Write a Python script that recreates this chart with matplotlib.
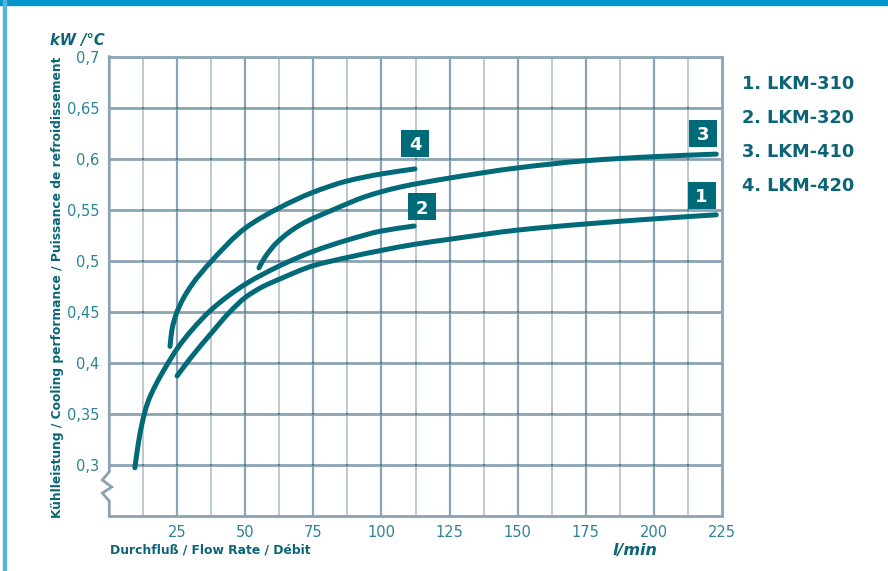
import numpy as np
import matplotlib
matplotlib.use("Agg")
import matplotlib.pyplot as plt
from matplotlib.patches import Rectangle, PathPatch
from matplotlib.path import Path

# Kuehlleistung (kW/°C) ueber Durchfluss (l/min)
LKM310_X = [24.9, 30.0, 37.5, 44.0, 50.0, 56.0, 62.6, 74.8, 87.2, 99.8, 112.0, 125.0, 150.0, 175.0, 200.0, 223.0]
LKM310_Y = [0.387, 0.405, 0.429, 0.449, 0.464, 0.474, 0.482, 0.495, 0.503, 0.510, 0.516, 0.521, 0.530, 0.536, 0.541, 0.545]

LKM320_X = [9.4, 10.5, 12.0, 14.0, 17.0, 21.0, 25.0, 30.0, 37.5, 50.0, 62.6, 74.8, 87.2, 99.8, 112.0]
LKM320_Y = [0.297, 0.318, 0.340, 0.360, 0.378, 0.397, 0.414, 0.431, 0.452, 0.477, 0.495, 0.509, 0.520, 0.529, 0.534]

LKM410_X = [55.0, 57.0, 61.5, 70.1, 82.3, 94.6, 106.5, 125.0, 150.0, 175.0, 200.0, 223.0]
LKM410_Y = [0.493, 0.5026, 0.5176, 0.535, 0.550, 0.5633, 0.572, 0.581, 0.591, 0.598, 0.602, 0.6045]

LKM420_X = [22.3, 23.0, 24.5, 27.0, 30.5, 37.0, 50.0, 62.6, 74.8, 87.2, 99.8, 112.3]
LKM420_Y = [0.416, 0.432, 0.447, 0.462, 0.477, 0.498, 0.532, 0.552, 0.567, 0.578, 0.585, 0.590]

SERIES = [(LKM310_X, LKM310_Y), (LKM320_X, LKM320_Y), (LKM410_X, LKM410_Y), (LKM420_X, LKM420_Y)]
LEGEND = ["1. LKM-310", "2. LKM-320", "3. LKM-410", "4. LKM-420"]

# Kennziffer-Kaestchen an den Kurven
BADGE_TEXT = ["1", "2", "3", "4"]
BADGE_X = [217.6, 115.0, 218.0, 112.4]
BADGE_Y = [0.564, 0.553, 0.625, 0.615]

X_TICKS = [25, 50, 75, 100, 125, 150, 175, 200, 225]
Y_TICKS = [0.3, 0.35, 0.4, 0.45, 0.5, 0.55, 0.6, 0.65, 0.7]

TEAL = "#006a79"
TEXT = "#0b6576"
TICKC = "#2b8396"
GRID = "#8ba3b3"
GRID_MINOR = "#a8bac6"


def smooth_path(xs, ys):
    """monotone Hermite-Kurve durch die Punkte als Bezier-Pfad (nur Darstellung)."""
    x = np.asarray(xs, float)
    y = np.asarray(ys, float)
    h = np.diff(x)
    d = np.diff(y) / h
    m = np.empty_like(x)
    m[0], m[-1] = d[0], d[-1]
    for k in range(1, len(x) - 1):
        if d[k - 1] * d[k] <= 0:
            m[k] = 0.0
        else:
            w1 = 2 * h[k] + h[k - 1]
            w2 = h[k] + 2 * h[k - 1]
            m[k] = (w1 + w2) / (w1 / d[k - 1] + w2 / d[k])
    verts = [(x[0], y[0])]
    codes = [Path.MOVETO]
    for k in range(len(h)):
        verts += [(x[k] + h[k] / 3, y[k] + m[k] * h[k] / 3),
                  (x[k + 1] - h[k] / 3, y[k + 1] - m[k + 1] * h[k] / 3),
                  (x[k + 1], y[k + 1])]
        codes += [Path.CURVE4] * 3
    return Path(verts, codes)


fig = plt.figure(figsize=(8.88, 5.71), dpi=100)
ax = fig.add_axes([109.3 / 888, 55.3 / 571, 612.4 / 888, 459.0 / 571])
ax.set_xlim(0, 225)
ax.set_ylim(0.25, 0.7)

# Raster
for xv in np.arange(12.5, 225, 25):
    ax.axvline(xv, color=GRID_MINOR, lw=1.1, zorder=1)
for xv in X_TICKS[:-1]:
    ax.axvline(xv, color=GRID, lw=1.6, zorder=1)
for yv in Y_TICKS[:-1]:
    ax.axhline(yv, color=GRID, lw=2.0, zorder=1)
xx, yy = np.meshgrid(np.arange(12.5, 225, 12.5), Y_TICKS)
ax.scatter(xx.ravel(), yy.ravel(), s=4, marker="s", color="#4f7d8c", lw=0, zorder=2)

for s in ax.spines.values():
    s.set_color(GRID)
    s.set_linewidth(2.0)
ax.spines["left"].set_visible(False)

# linke Achse mit Bruchzeichen
zx = [0, 0, -2.57, 0.9, -2.57, 0, 0]
zy = [0.7, 0.2931, 0.2850, 0.2781, 0.2722, 0.2644, 0.25]
ax.plot(zx, zy, color=GRID, lw=2.0, clip_on=False, zorder=3, solid_joinstyle="miter")

for xs, ys in SERIES:
    ax.add_patch(PathPatch(smooth_path(xs, ys), fill=False, ec=TEAL, lw=3.6,
                           capstyle="round", joinstyle="round", zorder=4))

bw, bh = 28 / 2.722, 27 / 1020.0
for t, bx, by in zip(BADGE_TEXT, BADGE_X, BADGE_Y):
    ax.add_patch(Rectangle((bx - bw / 2, by - bh / 2), bw, bh, fc=TEAL, ec="none", zorder=5))
    ax.text(bx, by, t, color="white", fontsize=13, fontweight="bold",
            ha="center", va="center_baseline", zorder=6)

ax.set_xticks(X_TICKS)
ax.set_xticklabels([str(v) for v in X_TICKS])
ax.set_yticks(Y_TICKS)
ax.set_yticklabels([f"{v:g}".replace(".", ",") for v in Y_TICKS])
ax.tick_params(length=0, labelsize=10.5, labelcolor=TICKC, pad=7)

# Achsentitel
fig.text(50 / 888, 1 - 41 / 571, "kW /°C", fontsize=10.6, fontweight="bold",
         style="italic", color=TEXT, ha="left", va="center")
fig.text(58 / 888, 1 - 287 / 571,
         "Kühlleistung / Cooling performance / Puissance de refroidissement",
         rotation=90, fontsize=8.85, fontweight="bold", color=TEXT,
         ha="center", va="center")
fig.text(110 / 888, 1 - 550 / 571, "Durchfluß / Flow Rate / Débit",
         fontsize=8.9, fontweight="bold", color=TEXT, ha="left", va="center")
fig.text(635 / 888, 1 - 551 / 571, "l/min", fontsize=11.5, fontweight="bold",
         style="italic", color=TEXT, ha="center", va="center")

for i, lab in enumerate(LEGEND):
    fig.text(742 / 888, 1 - (84 + 34 * i) / 571, lab, fontsize=12.8,
             fontweight="bold", color=TEXT, ha="left", va="center")

# Rahmen der Seite
fig.patches.append(Rectangle((0, 1 - 5 / 571), 1, 5 / 571, transform=fig.transFigure,
                             color="#0096c9", zorder=10))
fig.patches.append(Rectangle((3 / 888, 0), 3 / 888, 1, transform=fig.transFigure,
                             color="#55b2dc", zorder=10))

fig.savefig("out.png", dpi=100)
